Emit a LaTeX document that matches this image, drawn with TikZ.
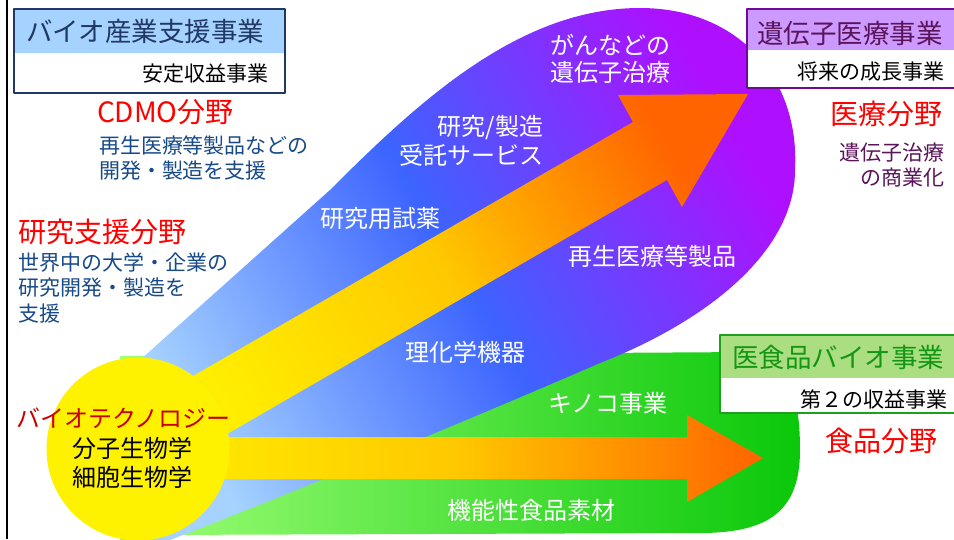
\documentclass[tikz,border=0pt]{standalone}
\usepackage{fontspec}
\setmainfont{Noto Sans CJK JP}
\definecolor{navyB}{RGB}{31,56,100}
\definecolor{hdB}{RGB}{166,210,255}
\definecolor{navyT}{RGB}{23,74,135}
\definecolor{purB}{RGB}{110,10,150}
\definecolor{hdP}{RGB}{204,153,255}
\definecolor{purT}{RGB}{90,20,90}
\definecolor{grnB}{RGB}{30,160,30}
\definecolor{hdG}{RGB}{170,222,128}
\definecolor{grnT}{RGB}{20,150,20}
\definecolor{fieldred}{RGB}{255,0,0}
\definecolor{biored}{RGB}{200,0,0}
\definecolor{bluL}{RGB}{165,210,255}
\definecolor{bluM}{RGB}{60,100,255}
\definecolor{purR}{RGB}{175,15,255}
\definecolor{grnL}{RGB}{160,255,120}
\definecolor{grnR}{RGB}{10,200,10}
\definecolor{arY}{RGB}{255,238,0}
\definecolor{arM}{RGB}{255,200,0}
\definecolor{arO}{RGB}{255,100,0}
\begin{document}
\begin{tikzpicture}[x=1pt, y=-1pt, line join=round,
  every node/.style={inner sep=0pt, outer sep=0pt},
  lbl/.style={text=white, font=\fontsize{24}{29}\selectfont},
  ttl/.style={font=\fontsize{26.5}{30}\selectfont},
  sub/.style={font=\fontsize{21}{25}\selectfont},
  fld/.style={text=fieldred, font=\fontsize{28}{32}\selectfont},
  bio/.style={font=\fontsize{24}{28}\selectfont}]
\useasboundingbox (0,0) rectangle (954,539);
\clip (0,0) rectangle (954,539);
% fields
\shade[left color=grnL, right color=grnR]
  (120,356) -- (750,352) .. controls (790,352) and (800,400) .. (800,450)
  .. controls (800,510) and (770,533) .. (700,533) -- (150,535) -- cycle;
\shade[left color=bluL, right color=purR, middle color=bluM, shading angle=120]
  (140,360) -- (330,190) .. controls (420,100) and (520,8) .. (640,8)
  .. controls (740,8) and (800,80) .. (795,170)
  .. controls (795,250) and (710,320) .. (600,363)
  .. controls (480,415) and (300,490) .. (170,540) -- (120,540) -- cycle;
% arrows
\path
  (148,402) coordinate (a1) (633,122) coordinate (a2) (618,95) coordinate (a3)
  (748,94) coordinate (a4) (682,207) coordinate (a5) (667,180) coordinate (a6)
  (182,460) coordinate (a7);
\shade[left color=arY, right color=arO, middle color=arM, shading angle=120]
  (a1) -- (a2) -- (a3) -- (a4) -- (a5) -- (a6) -- (a7) -- cycle;
\path
  (150,437) coordinate (b1) (687,437) coordinate (b2) (687,415) coordinate (b3)
  (763,458) coordinate (b4) (687,502) coordinate (b5) (687,479) coordinate (b6)
  (150,479) coordinate (b7);
\shade[left color=arY, right color=arO, middle color=arM]
  (b1) -- (b2) -- (b3) -- (b4) -- (b5) -- (b6) -- (b7) -- cycle;
\node[circle, fill=yellow, minimum size=183pt] (core) at (138,449) {};
\draw[line width=2pt] (7,0) -- (7,539);
% labels on fields
\node[lbl, anchor=base west] (gan1) at (550,54) {がんなどの};
\node[lbl, anchor=base west] (gan2) at (550,81) {遺伝子治療};
\node[lbl, anchor=base east] (cro1) at (543,135) {研究/製造};
\node[lbl, anchor=base east] (cro2) at (543,164) {受託サービス};
\foreach \x/\y/\t [count=\i] in {380/227/研究用試薬, 652/265/再生医療等製品,
  465/361/理化学機器, 608/412/キノコ事業, 531/519/機能性食品素材}
  \node[lbl, anchor=base] (lab\i) at (\x,\y) {\t};
\node[bio, text=biored, anchor=base] (bt) at (123.5,427) {バイオテクノロジー};
\node[bio, anchor=base] (m1) at (132,457) {分子生物学};
\node[bio, anchor=base] (m2) at (132,486) {細胞生物学};
% boxes
\fill[white] (14,9) rectangle (285,93);
\fill[hdB] (14,9) rectangle (285,53);
\draw[navyB, line width=2.5pt] (14,9) rectangle (285,93);
\node[ttl, text=navyB, anchor=base west] (t1) at (26,41) {バイオ産業支援事業};
\node[sub, anchor=base east] (s1) at (268,81) {安定収益事業};
\fill[white] (747,9) rectangle (960,88);
\fill[hdP] (747,9) rectangle (960,50);
\draw[purB, line width=2.5pt] (747,9) rectangle (960,88);
\node[ttl, text=purT, anchor=base west] (t2) at (757,43) {遺伝子医療事業};
\node[sub, anchor=base east] (s2) at (944,79) {将来の成長事業};
\fill[white] (720,335) rectangle (960,413);
\fill[hdG] (720,335) rectangle (960,378);
\draw[grnB, line width=2.5pt] (720,335) rectangle (960,413);
\node[ttl, text=grnT, anchor=base west] (t3) at (732,367.5) {医食品バイオ事業};
\node[sub, anchor=base east] (s3) at (947,407) {第２の収益事業};
% field texts
\node[fld, anchor=base west] (f1) at (97,122) {CDMO分野};
\foreach \t [count=\i] in {再生医療等製品などの, 開発・製造を支援}
  \node[sub, text=navyT, anchor=base west] (d\i) at (99,128+25*\i) {\t};
\node[fld, anchor=base west] (f2) at (19,242) {研究支援分野};
\foreach \t [count=\i] in {世界中の大学・企業の, 研究開発・製造を, 支援}
  \node[sub, text=navyT, anchor=base west] (r\i) at (19,244.5+25.5*\i) {\t};
\node[fld, anchor=base east] (f3) at (942,124) {医療分野};
\foreach \t [count=\i] in {遺伝子治療, の商業化}
  \node[sub, text=purT, anchor=base east] (g\i) at (944,135+25*\i) {\t};
\node[fld, anchor=base west] (f4) at (825,451) {食品分野};
\end{tikzpicture}
\end{document}
